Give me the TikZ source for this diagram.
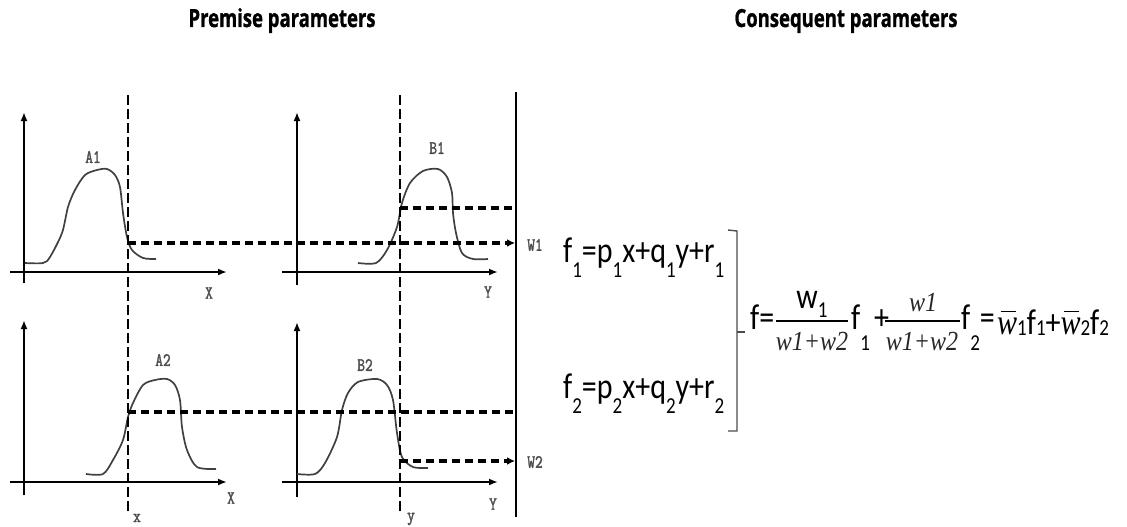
\documentclass[tikz,border=0pt]{standalone}
\usepackage{fontspec}
\usepackage{graphicx}
\usetikzlibrary{arrows.meta}
\newfontfamily\hdrfont{Open Sans}[BoldFeatures={FakeBold=1.2}]
\newfontfamily\calfont{Carlito}
\newfontfamily\serifit{Liberation Serif}
\newfontfamily\labfont{Latin Modern Mono}[FakeBold=2]
\newcommand{\vstr}[2][1.25]{\scalebox{1}[#1]{#2}}
\newcommand{\lsub}[2][0.42em]{\raisebox{-#1}{\fontsize{19}{19}\selectfont #2}}
\newcommand{\wbar}{\makebox[0pt][l]{\hspace{0.12em}\rule[0.6em]{0.5em}{0.05em}}{\serifit\itshape w}}
\begin{document}
\begin{tikzpicture}[x=1pt,y=-1pt,
  axis/.style={line width=2.1pt,-{Latex[length=9pt,width=7pt]}},
  mf/.style={line width=1.7pt,black!75,line join=round},
  vdash/.style={line width=2.6pt,dash pattern=on 10pt off 4pt},
  hdash/.style={line width=3.6pt,dash pattern=on 8pt off 5pt},
  lab/.style={inner sep=0pt,text=black!70,font=\labfont\fontsize{15}{15}\selectfont},
  hdr/.style={inner sep=0pt,anchor=base,font=\hdrfont\bfseries\fontsize{18.5}{18.5}\selectfont},
  eq/.style={inner sep=0pt,anchor=base west,font=\calfont\fontsize{30}{30}\selectfont},
  eqc/.style={inner sep=0pt,anchor=base,font=\calfont\fontsize{30}{30}\selectfont},
  eqi/.style={inner sep=0pt,anchor=base,text=black!85,font=\serifit\itshape\fontsize{24}{24}\selectfont}]
\useasboundingbox (0,0) rectangle (1127,527);
% headers
\node[hdr] (hp) at (282,27) {\vstr[1.35]{Premise parameters}};
\node[hdr] (hc) at (846,27) {\vstr[1.35]{Consequent parameters}};
% coordinates for axes
\coordinate (a1o) at (24,283); \coordinate (a1t) at (24,112);
\coordinate (a1l) at (10,272); \coordinate (a1r) at (227,272);
\coordinate (b1o) at (297,285); \coordinate (b1t) at (297,112);
\coordinate (b1l) at (282,272); \coordinate (b1r) at (498,272);
\coordinate (a2o) at (24,495); \coordinate (a2t) at (24,320);
\coordinate (a2l) at (10,482); \coordinate (a2r) at (227,482);
\coordinate (b2o) at (297,497); \coordinate (b2t) at (297,322);
\coordinate (b2l) at (282,482); \coordinate (b2r) at (498,482);
\draw[axis] (a1o) -- (a1t); \draw[axis] (a1l) -- (a1r);
\draw[axis] (b1o) -- (b1t); \draw[axis] (b1l) -- (b1r);
\draw[axis] (a2o) -- (a2t); \draw[axis] (a2l) -- (a2r);
\draw[axis] (b2o) -- (b2t); \draw[axis] (b2l) -- (b2r);
% membership functions
\draw[mf] plot[smooth,tension=0.5] coordinates {(25,263) (43,263) (50,257) (62,233) (68,207) (75,190) (85,175) (97,170) (107,169) (115,175) (120,187) (123,213) (127,237) (132,250) (143,258) (156,259)};
\draw[mf] plot[smooth,tension=0.5] coordinates {(358,263) (376,263) (387,250) (397,227) (402,203) (410,183) (423,171) (438,169) (447,177) (452,193) (453,213) (456,233) (462,253) (473,259) (488,259)};
\draw[mf] plot[smooth,tension=0.5] coordinates {(86,474) (103,474) (113,460) (123,440) (128,417) (133,403) (143,385) (155,380) (167,379) (175,385) (180,400) (182,427) (187,450) (197,467) (216,469)};
\draw[mf] plot[smooth,tension=0.5] coordinates {(297,474) (315,474) (325,463) (337,437) (342,410) (348,393) (358,382) (377,379) (387,385) (393,400) (397,433) (402,457) (413,467) (428,468)};
% vertical dashed and solid lines
\coordinate (vx1) at (128,95); \coordinate (vx2) at (128,512);
\coordinate (vy1) at (400,95); \coordinate (vy2) at (400,511);
\coordinate (ws1) at (516,92); \coordinate (ws2) at (516,517);
\draw[vdash] (vx1) -- (vx2);
\draw[vdash,line width=1.8pt] (vy1) -- (vy2);
\draw[line width=2.2pt] (ws1) -- (ws2);
% horizontal dashed
\coordinate (h1a) at (128,243); \coordinate (h1b) at (515,243);
\coordinate (h2a) at (400,208); \coordinate (h2b) at (516,208);
\coordinate (h3a) at (128,412); \coordinate (h3b) at (516,412);
\coordinate (h4a) at (400,461); \coordinate (h4b) at (515,461);
\draw[hdash,-{Latex[length=8pt,width=8pt]}] (h1a) -- (h1b);
\draw[hdash] (h2a) -- (h2b);
\draw[hdash] (h3a) -- (h3b);
\draw[hdash,-{Latex[length=8pt,width=8pt]}] (h4a) -- (h4b);
% labels
\node[lab] (lA1) at (93,157) {\vstr{A1}};
\node[lab] (lB1) at (437,148) {\vstr{B1}};
\node[lab] (lA2) at (163,360) {\vstr{A2}};
\node[lab] (lB2) at (365,365) {\vstr{B2}};
\node[lab] (lX1) at (209,293) {\vstr{X}};
\node[lab] (lY1) at (488,292) {\vstr{Y}};
\node[lab] (lX2) at (231,498) {\vstr{X}};
\node[lab] (lY2) at (493,504) {\vstr{Y}};
\node[lab] (lx) at (137,518) {\vstr{x}};
\node[lab] (ly) at (411,519) {\vstr{y}};
\node[lab] (lW1) at (535,245) {\vstr{W1}};
\node[lab] (lW2) at (535,462) {\vstr{W2}};
% rule equations
\node[eq] (f1) at (563,262) {\vstr[1.2]{f\lsub{1}=p\lsub{1}x+q\lsub{1}y+r\lsub{1}}};
\node[eq] (f2) at (563,398) {\vstr[1.2]{f\lsub{2}=p\lsub{2}x+q\lsub{2}y+r\lsub{2}}};
% bracket
\coordinate (bt0) at (728,230); \coordinate (bt1) at (737,231);
\coordinate (bb1) at (737,431); \coordinate (bb0) at (728,431);
\coordinate (bm0) at (737,332); \coordinate (bm1) at (745,332);
\draw[line width=1.4pt,black!70] (bt0) -- (bt1) -- (bb1) -- (bb0);
\draw[line width=1.4pt,black!70] (bm0) -- (bm1);
% main formula
\node[eq] (fe) at (750,329) {\vstr[1.2]{f=}};
\coordinate (fr1a) at (776,321); \coordinate (fr1b) at (848,321);
\draw[line width=2pt] (fr1a) -- (fr1b);
\node[eqc] (n1) at (812,308) {\vstr[1.2]{w\lsub[0.25em]{1}}};
\node[eqi] (d1) at (812,350) {\vstr[1.15]{w1+w2}};
\node[eq] (ff1) at (851,329) {\vstr[1.2]{f\lsub[0.6em]{1}}};
\node[eq] (pl) at (874,329) {\vstr[1.2]{+}};
\coordinate (fr2a) at (885,321); \coordinate (fr2b) at (960,321);
\draw[line width=2pt] (fr2a) -- (fr2b);
\node[eqi] (n2) at (923,311) {\vstr[1.15]{w1}};
\node[eqi] (d2) at (922,350) {\vstr[1.15]{w1+w2}};
\node[eq] (ff2) at (961,329) {\vstr[1.2]{f\lsub[0.6em]{2}=}};
\node[eq] (wsum) at (997,334) {\vstr[1.2]{{\fontsize{30}{30}\selectfont\wbar}\lsub[0.05em]{1}f\lsub[0.05em]{1}+{\fontsize{30}{30}\selectfont\wbar}\lsub[0.05em]{2}f\lsub[0.05em]{2}}};
\end{tikzpicture}
\end{document}
